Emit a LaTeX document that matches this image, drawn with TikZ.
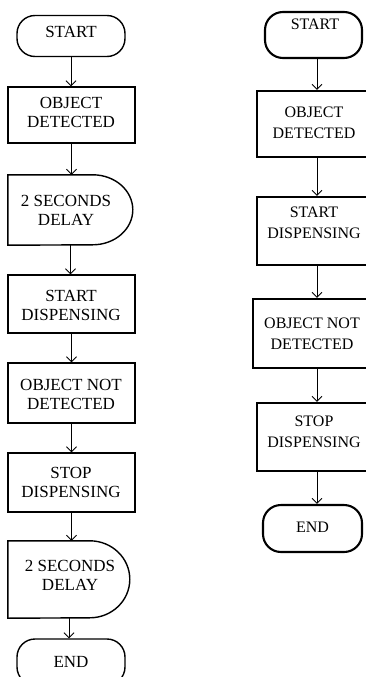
\documentclass[tikz,border=0pt]{standalone}
\usepackage{fontspec}
\setmainfont{Liberation Serif}
\usetikzlibrary{arrows.meta}
\begin{document}
\begin{tikzpicture}[x=1pt,y=1pt,
  lshape/.style={draw, line width=1.4pt, inner sep=0pt},
  rshape/.style={draw, line width=2.1pt, inner sep=0pt},
  hidden/.style={inner sep=0pt},
  term/.style={rounded corners=18pt},
  ltext/.style={inner sep=0pt, align=center, font=\fontsize{17}{19}\selectfont},
  rtext/.style={inner sep=0pt, align=center, font=\fontsize{16}{21}\selectfont},
  arr/.style={line width=0.9pt, -{Straight Barb[length=5pt,width=10pt,line width=0.9pt]}}]
\useasboundingbox (0,0) rectangle (366,-677);
\clip (0,0) rectangle (366,-677);
\fill[white] (0,0) rectangle (366,-677);

% ---------- left flowchart ----------
\node[lshape, term, minimum width=108pt, minimum height=41pt] (L1) at (71,-36) {};
\node[ltext] (L1t) at (71,-32) {START};
\node[lshape, minimum width=127pt, minimum height=56pt] (L2) at (71.5,-115) {};
\node[ltext] (L2t) at (71,-112.5) {OBJECT\\DETECTED};
\node[hidden, minimum width=125pt, minimum height=70pt] (L3) at (70.5,-210) {};
\draw[line width=1.4pt] (L3.north west) -- ++(85,0)
  arc[start angle=90, end angle=-90, x radius=40, y radius=35] -- (L3.south west) -- cycle;
\node[ltext] (L3t) at (66,-210) {2 SECONDS\\DELAY};
\node[lshape, minimum width=127pt, minimum height=58pt] (L4) at (71.5,-304) {};
\node[ltext] (L4t) at (71,-305) {START\\DISPENSING};
\node[lshape, minimum width=127pt, minimum height=60pt] (L5) at (71.5,-393) {};
\node[ltext] (L5t) at (71,-394) {OBJECT NOT\\DETECTED};
\node[lshape, minimum width=127pt, minimum height=59pt] (L6) at (71.5,-482.5) {};
\node[ltext] (L6t) at (71,-482.5) {STOP\\DISPENSING};
\node[hidden, minimum width=122pt, minimum height=77pt] (L7) at (69,-579.5) {};
\draw[line width=1.4pt] (L7.north west) -- ++(82,0)
  arc[start angle=90, end angle=-90, x radius=40, y radius=38.5] -- (L7.south west) -- cycle;
\node[ltext] (L7t) at (70,-575) {2 SECONDS\\DELAY};
\node[lshape, term, minimum width=108pt, minimum height=46pt] (L8) at (71,-662) {};
\node[ltext] (L8t) at (71,-662) {END};

\draw[arr] (L1.south) -- (L1.south |- L2.north);
\draw[arr] (L2.south) -- (L2.south |- L3.north);
\draw[arr] (L3.south) -- (L3.south |- L4.north);
\draw[arr] (L4.south) -- (L5.north);
\draw[arr] (L5.south) -- (L6.north);
\draw[arr] (L6.south) -- (L6.south |- L7.north);
\draw[arr] (L7.south) -- (L7.south |- L8.north);

% ---------- right flowchart ----------
\node[rshape, term, minimum width=97pt, minimum height=46pt] (R1) at (313.5,-35) {};
\node[rtext] (R1t) at (315,-24) {START};
\node[rshape, minimum width=120pt, minimum height=66pt] (R2) at (317,-124) {};
\node[rtext] (R2t) at (314,-123) {OBJECT\\DETECTED};
\node[rshape, minimum width=120pt, minimum height=68pt] (R3) at (317,-231) {};
\node[rtext] (R3t) at (314,-223) {START\\DISPENSING};
\node[rshape, minimum width=128pt, minimum height=69pt] (R4) at (317,-333.5) {};
\node[rtext] (R4t) at (312,-334) {OBJECT NOT\\DETECTED};
\node[rshape, minimum width=120pt, minimum height=68pt] (R5) at (317,-437) {};
\node[rtext] (R5t) at (314,-432) {STOP\\DISPENSING};
\node[rshape, term, minimum width=99pt, minimum height=47pt] (R6) at (312.5,-528.5) {};
\node[rtext] (R6t) at (312.5,-527) {END};

\draw[arr] (R2.north |- R1.south) -- (R2.north);
\draw[arr] (R2.south) -- (R3.north);
\draw[arr] (R3.south) -- (R4.north);
\draw[arr] (R4.south) -- (R5.north);
\draw[arr] (R5.south) -- (R5.south |- R6.north);
\end{tikzpicture}
\end{document}
